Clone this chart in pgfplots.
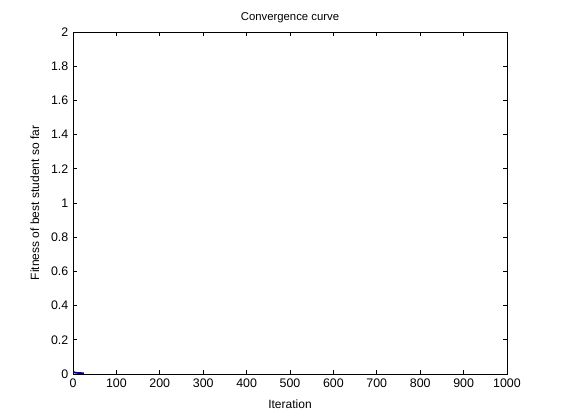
\documentclass[border=0pt]{standalone}
\usepackage{pgfplots}
\pgfplotsset{compat=1.18}
\usepackage{fontspec}
\setmainfont{Liberation Sans}
\begin{document}
\begin{tikzpicture}[x=0.75pt,y=0.75pt]
\begin{axis}[
  scale only axis,
  width=325.5pt, height=256.5pt,
  xmin=0, xmax=1000, ymin=0, ymax=2,
  xtick={0,100,...,1000},
  ytick={0,0.2,...,2},
  yticklabels={0,0.2,0.4,0.6,0.8,1,1.2,1.4,1.6,1.8,2},
  tick align=inside,
  tick pos=both,
  major tick length=3pt,
  axis line style={line width=0.6pt},
  tick style={black, line width=0.6pt},
  /pgf/number format/assume math mode=true,
  ticklabel style={font=\fontsize{9.3}{10}\selectfont},
  scaled x ticks=false,
  xticklabel style={/pgf/number format/1000 sep={}},
  title={Convergence curve},
  title style={font=\fontsize{8.5}{10}\selectfont, yshift=-3pt},
  xlabel={Iteration},
  ylabel={Fitness of best student so far},
  label style={font=\fontsize{9}{10}\selectfont},
  xlabel style={yshift=-2pt},
  ylabel style={yshift=2pt},
  clip=false,
]
\addplot[color={rgb,255:red,0;green,0;blue,140}, line width=1.3pt] coordinates {
(1,0.012) (3,0.010) (5,0.008) (8,0.007) (12,0.006) (16,0.006) (20,0.005) (25,0.005)
};
\coordinate (bl) at (rel axis cs:0,0);
\coordinate (tr) at (rel axis cs:1,1);
\end{axis}
\pgfresetboundingbox
\path (bl) ++(-73,-46) coordinate (BB1);
\path (tr) ++(54,32) coordinate (BB2);
\path[use as bounding box] (BB1) rectangle (BB2);
\end{tikzpicture}
\end{document}
